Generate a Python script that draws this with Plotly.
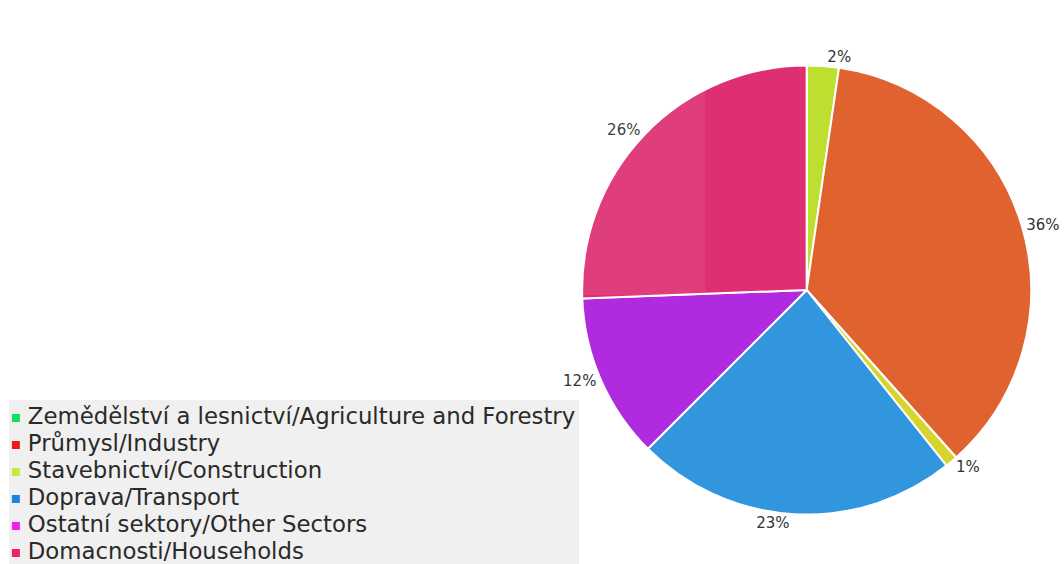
import plotly.graph_objects as go

# Energy consumption shares by sector (%)
sectors = [
    "Zemědělství a lesnictví/Agriculture and Forestry",
    "Průmysl/Industry",
    "Stavebnictví/Construction",
    "Doprava/Transport",
    "Ostatní sektory/Other Sectors",
    "Domacnosti/Households",
]
shares = [2.3, 36.1, 0.9, 23.2, 11.9, 25.6]

slice_colors = ["#bde030", "#e0632f", "#d8d42c", "#3196de", "#b02be0", "#dd2f72"]
legend_colors = ["#10e060", "#f01818", "#c8e840", "#1a84e0", "#f020f0", "#f0206a"]

W, H = 1064, 564

# pie placement in pixels
cx, cy, r = 812, 290, 226

# legend block layout in pixels
leg_left, leg_top, leg_right = 9, 400, 583
row0, row_step = 418, 27
mark_x, text_x = 16, 28

fig = go.Figure()

fig.add_trace(go.Pie(
    labels=sectors,
    values=shares,
    sort=False,
    direction="clockwise",
    rotation=0,
    marker=dict(colors=slice_colors, line=dict(color="white", width=2)),
    texttemplate="%{percent:.0%}",
    textposition="outside",
    outsidetextfont=dict(family="DejaVu Sans", size=15, color="#333333"),
    showlegend=False,
    hoverinfo="label+percent",
    domain=dict(x=[(cx - r) / W, (cx + r) / W],
                y=[1 - (cy + r) / H, 1 - (cy - r) / H]),
))

# Custom legend: colored squares with labels, on a pixel-scaled hidden axis
rows = [row0 + i * row_step for i in range(len(sectors))]
fig.add_trace(go.Scatter(
    x=[mark_x] * len(sectors), y=rows, mode="markers",
    marker=dict(symbol="square", size=8, color=legend_colors),
    hoverinfo="skip", showlegend=False,
))
fig.add_trace(go.Scatter(
    x=[text_x] * len(sectors), y=rows, mode="text",
    text=sectors, textposition="middle right",
    textfont=dict(family="DejaVu Sans", size=22.8, color="#2a2a2a"),
    hoverinfo="skip", showlegend=False,
))

fig.update_layout(
    width=W, height=H,
    margin=dict(l=0, r=0, t=0, b=0),
    paper_bgcolor="white",
    plot_bgcolor="rgba(0,0,0,0)",
    showlegend=False,
    xaxis=dict(visible=False, range=[0, W], domain=[0, 1], fixedrange=True),
    yaxis=dict(visible=False, range=[H, 0], domain=[0, 1], fixedrange=True),
    shapes=[
        dict(type="rect", xref="x", yref="y",
             x0=leg_left, x1=leg_right, y0=leg_top, y1=H + 10,
             fillcolor="#f0f0f0", line=dict(width=0), layer="below"),
        dict(type="rect", xref="x", yref="y",
             x0=495, x1=710, y0=7, y1=295,
             fillcolor="white", opacity=0.07, line=dict(width=0), layer="above"),
    ],
)

fig.write_html("out.html")
